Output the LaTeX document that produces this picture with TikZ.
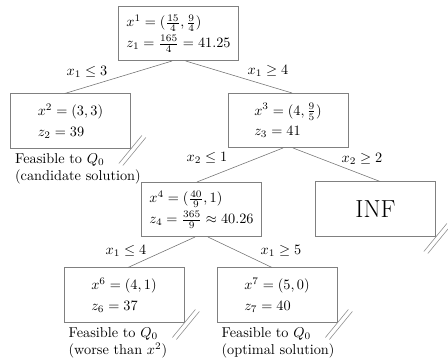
\documentclass[tikz,border=0pt]{standalone}
\usepackage{amsmath,amssymb}
\usepackage{tikz}
\usetikzlibrary{positioning}
\tikzset{
  sub/.style={draw=black!50, line width=0.5pt, align=left, inner sep=3pt,
              minimum width=84pt, minimum height=38pt},
  branch/.style={draw=black!55, line width=0.4pt},
  lbl/.style={inner sep=1pt},
  note/.style={align=left, inner sep=3.33pt},
  cut/.style={draw=black!45, line width=0.4pt},
}

\begin{document}
\begin{tikzpicture}[x=0.7pt, y=-0.7pt]
  \useasboundingbox (0,0) rectangle (448,358);
  % subproblems of the branch-and-bound tree
  \node[sub] (P1) at (178.5,33.5) {$x^1 = (\frac{15}{4}, \frac{9}{4})$\\[2.5pt] $z_1 = \frac{165}{4} = 41.25$};
  \node[sub] (P2) at (70.5,121) {$x^2 = (3,3)$\\[2.5pt] $z_2 = 39$};
  \node[sub] (P3) at (288,120.5) {$x^3 = (4, \frac{9}{5})$\\[2.5pt] $z_3 = 41$};
  \node[sub] (P4) at (201.5,209.5) {$x^4 = (\frac{40}{9}, 1)$\\[2.5pt] $z_4 = \frac{365}{9} \approx 40.26$};
  \node[sub, font=\LARGE] (INF) at (375.5,209) {INF};
  \node[sub] (P6) at (124,295) {$x^6 = (4,1)$\\[2.5pt] $z_6 = 37$};
  \node[sub] (P7) at (277,295) {$x^7 = (5,0)$\\[2.5pt] $z_7 = 40$};
  % branches
  \foreach \a/\sa/\b/\sb in {P1/-4.5/P2/-4, P1/5/P3/2.8, P3/-3.5/P4/-3.2,
                             P3/3.5/INF/3.2, P4/-4.5/P6/2.8, P4/4.5/P7/-3.5} {
    \draw[branch] ([xshift=\sa pt]\a.south) -- ([xshift=\sb pt]\b.north);
  }
  \node[lbl] (L12) at (87,72) {$x_1 \leq 3$};
  \node[lbl] (L13) at (268,71) {$x_1 \geq 4$};
  \node[lbl] (L34) at (207,158) {$x_2 \leq 1$};
  \node[lbl] (L3I) at (362,159) {$x_2 \geq 2$};
  \node[lbl] (L46) at (126,251) {$x_1 \leq 4$};
  \node[lbl] (L47) at (281,251) {$x_1 \geq 5$};
  % pruned nodes
  \node[note, below right=0pt of P2.south west] (F2) {Feasible to $Q_0$\\(candidate solution)};
  \node[note, below right=0pt of P6.south west] (F6) {Feasible to $Q_0$\\(worse than $x^2$)};
  \node[note, below right=0pt of P7.south west] (F7) {Feasible to $Q_0$\\(optimal solution)};
  \foreach \c in {P2,INF,P6,P7} {
    \draw[cut] ([shift={(11,-13)}]\c.south east) -- ++(-23,28);
    \draw[cut] ([shift={(15,-11)}]\c.south east) -- ++(-23,28);
  }
\end{tikzpicture}
\end{document}
